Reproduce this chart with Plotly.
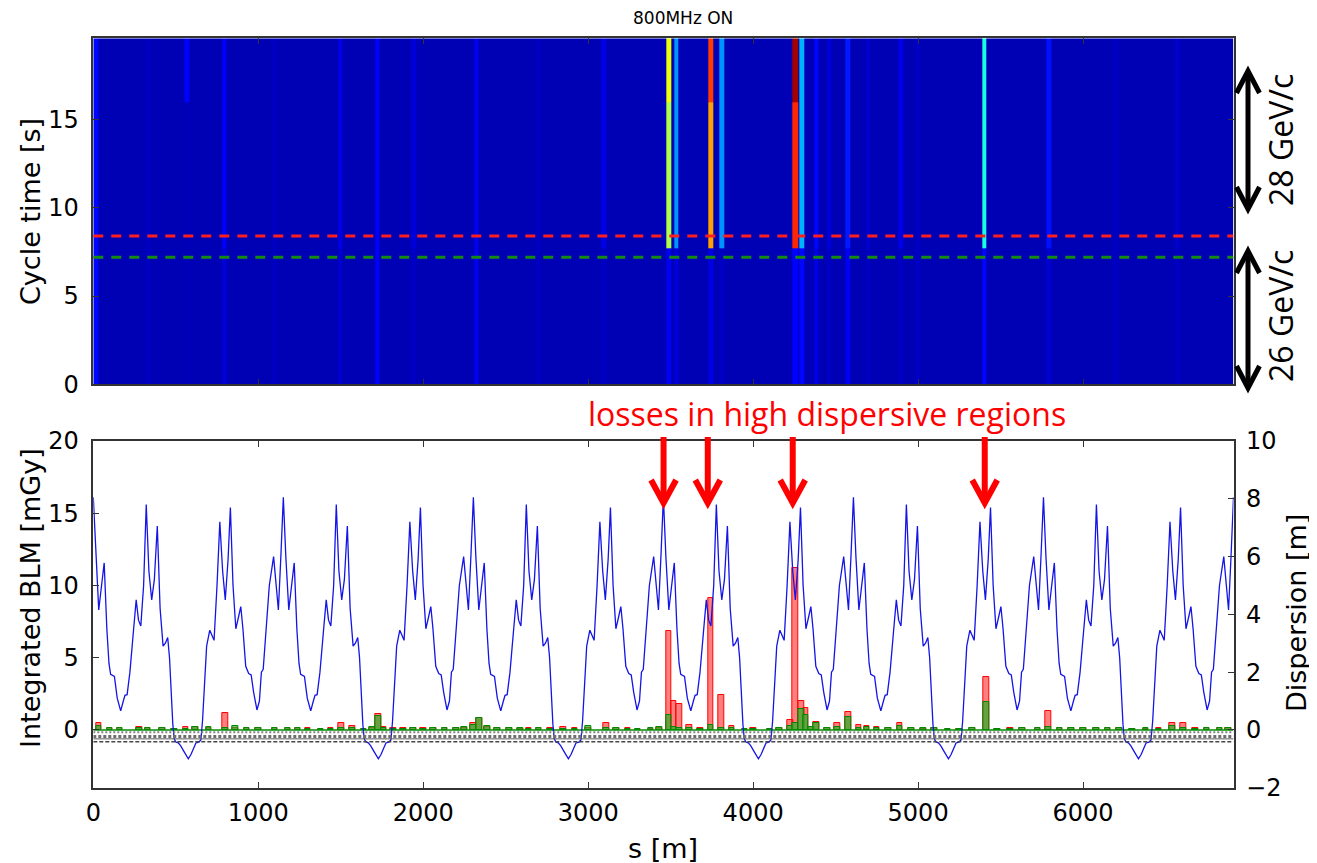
import numpy as np
import plotly.graph_objects as go

W, H = 1317, 863
S_MAX = 6912

# ---------------- heatmap: BLM signal vs s and cycle time ----------------
hm_time_edges = [0, 7.7, 16.0, 19.6]
hm_col_s = [16, 330, 569, 798, 1100, 1499, 1723, 1945, 2322, 2700, 3097,
            3487, 3534, 3743, 3807, 4256, 4295, 4380, 4460, 4576, 4700,
            4895, 5000, 5406, 5792, 6200, 6572]
hm_col_low = [0.13, 0.06, 0.05, 0.08, 0.06, 0.07, 0.11, 0.06, 0.10, 0.06, 0.06,
              0.10, 0.08, 0.09, 0.06, 0.11, 0.13, 0.09, 0.06, 0.10, 0.06,
              0.06, 0.06, 0.13, 0.07, 0.06, 0.06]
hm_col_mid = [0.13, 0.06, 0.05, 0.11, 0.06, 0.09, 0.11, 0.08, 0.10, 0.06, 0.09,
              0.56, 0.27, 0.74, 0.27, 0.87, 0.30, 0.13, 0.08, 0.15, 0.07,
              0.09, 0.06, 0.38, 0.14, 0.06, 0.07]
hm_col_top = [0.13, 0.06, 0.11, 0.11, 0.06, 0.09, 0.11, 0.08, 0.10, 0.06, 0.09,
              0.64, 0.27, 0.85, 0.27, 0.97, 0.30, 0.13, 0.08, 0.15, 0.07,
              0.09, 0.06, 0.38, 0.14, 0.06, 0.07]
hm_background = 0.045
t_red_line = 8.4
t_green_line = 7.2

# ---------------- dispersion: one sextant profile ----------------
sextant_u = [-576, -560, -545, -530, -512, -500, -490, -480, -465, -446, -420, -402,
             -385, -368, -352, -335, -321, -305, -288, -272, -258, -245, -228, -210,
             -195, -180, -160, -145, -133, -122, -105, -85, -59, -45, -30, -15, 0,
             15, 33, 50, 66, 82, 95, 105, 128, 145, 166, 182, 192, 205, 222, 243,
             260, 274, 288, 305, 321, 337, 354, 370, 388, 405, 423, 437, 451, 462,
             472, 482, 490, 500, 515, 530, 550, 576]
sextant_D = [-1.0, -0.85, -0.62, -0.45, -0.42, -0.35, 0.3, 1.5, 2.9, 3.45, 3.1, 5.0,
             7.2, 5.5, 4.5, 5.9, 7.7, 5.0, 3.5, 3.9, 4.27, 3.5, 2.2, 1.95,
             1.9, 1.3, 0.69, 1.0, 2.0, 2.1, 3.5, 5.0, 6.0, 5.0, 4.15, 6.0, 8.05,
             6.0, 4.15, 5.0, 5.78, 3.5, 2.3, 1.92, 1.85, 1.1, 0.66, 1.0, 1.2, 1.22, 2.0, 3.4,
             4.5, 3.8, 3.6, 5.0, 7.8, 5.5, 4.5, 5.2, 7.06, 4.2, 2.9, 3.0, 3.2, 2.5,
             1.3, 0.2, -0.3, -0.42, -0.45, -0.55, -0.75, -1.0]
sextant_centres = [0, 1152, 2304, 3456, 4608, 5760, 6912]

# ---------------- integrated BLM bars ----------------
blm_s = [34, 100, 160, 280, 330, 420, 490, 560, 620, 700, 800, 860, 930, 1000,
         1100, 1180, 1240, 1300, 1380, 1440, 1505, 1570, 1640, 1690, 1729, 1760,
         1820, 1880, 1940, 2000, 2060, 2130, 2200, 2250, 2302, 2340, 2390, 2450,
         2520, 2590, 2640, 2700, 2770, 2850, 2920, 3000, 3110, 3170, 3240, 3300,
         3380, 3430, 3488, 3520, 3551, 3612, 3680, 3744, 3808, 3870, 3950, 4000,
         4100, 4160, 4224, 4257, 4292, 4320, 4352, 4384, 4450, 4512, 4576, 4640,
         4690, 4750, 4820, 4890, 4960, 5030, 5100, 5180, 5250, 5330, 5413, 5480,
         5560, 5630, 5725, 5790, 5860, 5930, 6000, 6080, 6150, 6220, 6300, 6380,
         6460, 6540, 6606, 6680, 6750, 6830, 6880]
blm_28 = [0.5, 0.1, 0.12, 0.2, 0.1, 0.12, 0.05, 0.2, 0.22, 0.12, 1.15, 0.15, 0.1, 0.1,
          0.1, 0.15, 0.12, 0.1, 0.05, 0.15, 0.5, 0.3, 0.05, 0.15, 1.1, 0.2,
          0.1, 0.15, 0.12, 0.15, 0.1, 0.1, 0.1, 0.15, 0.5, 0.85, 0.2, 0.1,
          0.1, 0.05, 0.15, 0.12, 0.15, 0.2, 0.1, 0.1, 0.46, 0.1, 0.1, 0.05,
          0.08, 0.1, 6.87, 2.0, 1.8, 0.35, 0.1, 9.1, 2.43, 0.25, 0.05, 0.1,
          0.05, 0.1, 0.7, 11.24, 2.0, 1.5, 0.2, 0.55, 0.1, 0.46, 1.23, 0.35,
          0.3, 0.23, 0.1, 0.46, 0.1, 0.08, 0.1, 0.05, 0.05, 0.1, 3.69, 0.05,
          0.1, 0.1, 0.15, 1.34, 0.1, 0.1, 0.1, 0.1, 0.15, 0.1, 0.08, 0.05,
          0.1, 0.46, 0.46, 0.1, 0.15, 0.15, 0.1]
blm_26 = [0.3, 0.15, 0.15, 0.1, 0.15, 0.1, 0.08, 0.05, 0.2, 0.2, 0.15, 0.25, 0.12, 0.15,
          0.15, 0.12, 0.15, 0.05, 0.08, 0.05, 0.1, 0.1, 0.05, 0.2, 0.97, 0.15,
          0.05, 0.05, 0.1, 0.05, 0.12, 0.12, 0.12, 0.2, 0.35, 0.8, 0.25, 0.15,
          0.12, 0.1, 0.05, 0.15, 0.05, 0.05, 0.05, 0.25, 0.1, 0.1, 0.08, 0.05,
          0.15, 0.2, 1.04, 0.23, 0.12, 0.1, 0.05, 0.35, 0.1, 0.1, 0.05, 0.05,
          0.05, 0.1, 0.3, 0.46, 1.45, 1.04, 0.2, 0.5, 0.15, 0.2, 0.9, 0.15,
          0.2, 0.1, 0.12, 0.25, 0.1, 0.12, 0.12, 0.05, 0.05, 0.1, 1.96, 0.05,
          0.05, 0.1, 0.1, 0.2, 0.1, 0.15, 0.1, 0.12, 0.12, 0.12, 0.05, 0.1,
          0.05, 0.3, 0.15, 0.05, 0.1, 0.1, 0.12]

arrow_s = [3457, 3725, 4240, 5404]

# ---------------- build derived arrays ----------------
s_edges = np.arange(0, S_MAX + 1, 8)
s_cent = 0.5 * (s_edges[:-1] + s_edges[1:])
z = np.full((3, len(s_cent)), hm_background)
for sc, lo, mi, tp in zip(hm_col_s, hm_col_low, hm_col_mid, hm_col_top):
    m = np.abs(s_cent - sc) <= 13
    z[0, m] = lo
    z[1, m] = mi
    z[2, m] = tp

disp_s, disp_D = [], []
for c in sextant_centres:
    for u, d in zip(sextant_u, sextant_D):
        s = c + u
        if 0 <= s <= S_MAX:
            disp_s.append(s)
            disp_D.append(d)

jet = [[0.0, 'rgb(0,0,128)'], [0.11, 'rgb(0,0,255)'], [0.125, 'rgb(0,0,255)'],
       [0.34, 'rgb(0,219,255)'], [0.35, 'rgb(0,230,247)'], [0.375, 'rgb(21,255,226)'],
       [0.64, 'rgb(239,255,8)'], [0.65, 'rgb(247,245,0)'], [0.66, 'rgb(255,236,0)'],
       [0.89, 'rgb(255,19,0)'], [0.91, 'rgb(232,0,0)'], [1.0, 'rgb(128,0,0)']]

# the page body adds an 8 px offset; convert screen pixels to paper fractions
OFF = 8

def px(x):
    return (x - OFF) / W

def py(y):
    return 1 - (y - OFF) / H

XD = [px(93.3), px(1233.5)]
Y_TOP = [py(384.3), py(38.3)]
Y_BOT = [py(787.7), py(441.0)]

fig = go.Figure()
fig.add_trace(go.Heatmap(x=s_edges, y=hm_time_edges, z=z, colorscale=jet,
                         zmin=0, zmax=1, showscale=False, xaxis='x', yaxis='y',
                         hoverinfo='skip'))
fig.add_trace(go.Bar(x=blm_s, y=blm_28, width=34, xaxis='x2', yaxis='y2',
                     marker=dict(color='rgba(255,0,0,0.5)',
                                 line=dict(color='rgb(255,0,0)', width=1))))
fig.add_trace(go.Bar(x=blm_s, y=blm_26, width=34, xaxis='x2', yaxis='y2',
                     marker=dict(color='rgba(40,175,40,0.7)',
                                 line=dict(color='rgb(0,135,0)', width=1))))
fig.add_trace(go.Scatter(x=[0, S_MAX], y=[0, 0], mode='lines', xaxis='x2', yaxis='y2',
                         line=dict(color='rgb(0,140,0)', width=1.5)))
fig.add_trace(go.Scatter(x=disp_s, y=disp_D, mode='lines', xaxis='x2', yaxis='y3',
                         line=dict(color='rgb(20,20,230)', width=1.3)))

tickfont = dict(family='DejaVu Sans', size=24, color='black')
axcommon = dict(ticks='inside', ticklen=6, tickwidth=1, tickcolor='#333',
                showgrid=False, zeroline=False, showline=True, linecolor='#333',
                linewidth=1.5, tickfont=tickfont, automargin=False)

shapes = []
# threshold dashed lines in the heatmap
shapes.append(dict(type='line', xref='x', yref='y', x0=0, x1=S_MAX, y0=t_red_line, y1=t_red_line,
                   line=dict(color='rgb(255,30,30)', width=3, dash='10px,8px')))
shapes.append(dict(type='line', xref='x', yref='y', x0=0, x1=S_MAX, y0=t_green_line, y1=t_green_line,
                   line=dict(color='rgb(20,140,20)', width=3, dash='10px,8px')))
# lattice band under the zero line
for yv, col, w, dsh in [(-0.17, 'rgb(130,130,130)', 2, '2px,2px'),
                        (-0.45, 'rgb(110,110,110)', 3, '3px,2px'),
                        (-0.62, 'rgb(90,90,90)', 1, 'solid'),
                        (-0.82, 'rgb(70,70,70)', 1.5, '4px,2px')]:
    shapes.append(dict(type='line', xref='x2', yref='y2', x0=0, x1=S_MAX, y0=yv, y1=yv,
                       line=dict(color=col, width=w, dash=dsh)))

# red arrows (losses in high dispersive regions)
hw = 12.5 / 0.165
for s in arrow_s:
    shapes.append(dict(type='line', xref='x2', yref='paper', x0=s, x1=s,
                       y0=py(437), y1=py(502), line=dict(color='rgb(255,0,0)', width=6)))
    shapes.append(dict(type='path', xref='x2', yref='paper',
                       path=f'M {s-hw},{py(480)} L {s},{py(503)} L {s+hw},{py(480)}',
                       line=dict(color='rgb(255,0,0)', width=6)))

# black double arrows on the right
def dbl_arrow(y_top, y_bot):
    x = px(1248)
    h = 11.5 / W
    out = [dict(type='line', xref='paper', yref='paper', x0=x, x1=x, y0=py(y_top + 3), y1=py(y_bot - 3),
                line=dict(color='black', width=5))]
    out.append(dict(type='path', xref='paper', yref='paper',
                    path=f'M {x-h},{py(y_top+22)} L {x},{py(y_top)} L {x+h},{py(y_top+22)}',
                    line=dict(color='black', width=5)))
    out.append(dict(type='path', xref='paper', yref='paper',
                    path=f'M {x-h},{py(y_bot-22)} L {x},{py(y_bot)} L {x+h},{py(y_bot-22)}',
                    line=dict(color='black', width=5)))
    return out

shapes += dbl_arrow(71, 209)
shapes += dbl_arrow(251, 388)

titlefont = dict(family='DejaVu Sans', size=27, color='black')
base = dict(xref='paper', yref='paper', showarrow=False, xanchor='center', yanchor='middle')
ann = [
    dict(text='800MHz ON', x=px(683), y=py(18),
         font=dict(family='DejaVu Sans', size=17, color='black'), **base),
    dict(text='Cycle time [s]', x=px(30), y=py(212), textangle=-90, font=titlefont, **base),
    dict(text='Integrated BLM [mGy]', x=px(30), y=py(598), textangle=-90, font=titlefont, **base),
    dict(text='Dispersion [m]', x=px(1296), y=py(613), textangle=-90, font=titlefont, **base),
    dict(text='s [m]', x=px(663), y=py(848), font=titlefont, **base),
    dict(text='28 GeV/c', x=px(1281), y=py(140), textangle=-90,
         font=dict(family='Open Sans', size=32, color='black'), **base),
    dict(text='26 GeV/c', x=px(1281), y=py(316), textangle=-90,
         font=dict(family='Open Sans', size=32, color='black'), **base),
    dict(text='losses in high dispersive regions', x=px(827), y=py(413),
         font=dict(family='Open Sans', size=32, color='rgb(255,0,0)'), **base),
]

fig.update_layout(
    width=W, height=H, margin=dict(l=0, r=0, t=0, b=0, autoexpand=False),
    paper_bgcolor='white', plot_bgcolor='white', showlegend=False,
    barmode='overlay', bargap=0,
    xaxis=dict(domain=XD, anchor='y', range=[0, S_MAX], tick0=0, dtick=1000,
               showticklabels=False, mirror='ticks', **axcommon),
    yaxis=dict(domain=Y_TOP, anchor='x', range=[0, 19.6], tick0=0, dtick=5,
               mirror='ticks', ticklabelstandoff=8, **axcommon),
    xaxis2=dict(domain=XD, anchor='y2', range=[0, S_MAX], tick0=0, dtick=1000,
                mirror='ticks', ticklabelstandoff=3, **axcommon),
    yaxis2=dict(domain=Y_BOT, anchor='x2', range=[-4, 20], tick0=0, dtick=5,
                ticklabelstandoff=8, **axcommon),
    yaxis3=dict(overlaying='y2', side='right', anchor='x2', range=[-2, 10], tick0=0, dtick=2,
                ticklabelstandoff=6, **axcommon),
    shapes=shapes, annotations=ann,
)

fig.write_html('out.html')
